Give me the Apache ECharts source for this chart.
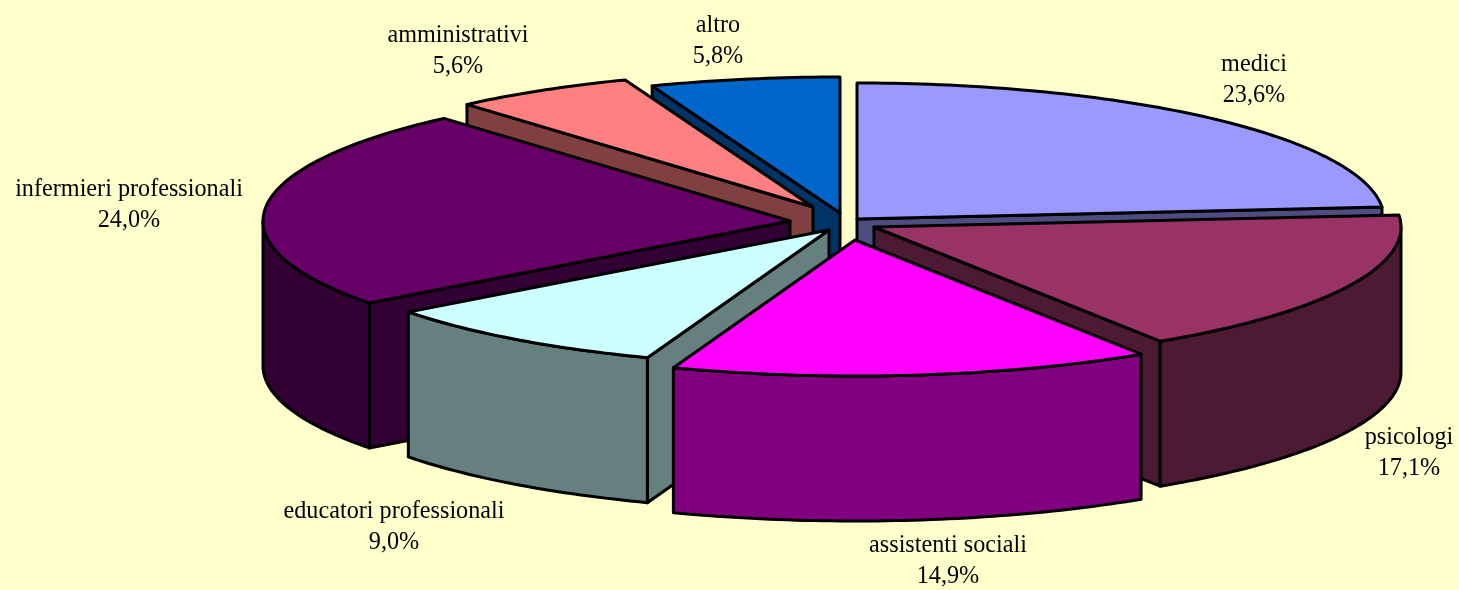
<!DOCTYPE html>
<html>
<head>
<meta charset="utf-8">
<style>html,body{margin:0;padding:0;background:#FFFFCC}#c{width:1459px;height:590px}</style>
<script src="https://cdn.jsdelivr.net/npm/echarts@6/dist/echarts.min.js"></script>
</head>
<body>
<div id="c"></div>
<script>
// Data, clockwise from 12 o'clock
const categories = ['medici','psicologi','assistenti sociali','educatori professionali','infermieri professionali','amministrativi','altro'];
const shares = [23.6,17.1,14.9,9.0,24.0,5.6,5.8];

// Styles
const topColors = ['#9999FF','#993366','#FF00FF','#CCFFFF','#660066','#FF8080','#0066CC'];
const sideColors = ['#4D4D80','#4D1A33','#800080','#668080','#330033','#804040','#003366'];

// Layout of the exploded 3D pie
const apexX = [857,874,855,829,790,813,840];
const apexY = [219,227,240,230,221,207,213];
const edgeNudgeDeg = [0,0,0.6,0,0.4,0,0];
const labelX = [1254,1409,948,394,129,458,718];
const labelY = [80,453,561,527,205,51,41];
const paintOrder = [0,6,5,4,1,3,2];
const RX = 527, RY = 136, DEPTH = 145;

const total = shares.reduce((a,b)=>a+b,0);
const edgeDeg = [];
shares.reduce((acc,v,i)=>{edgeDeg[i]=acc+edgeNudgeDeg[i];return acc+v/total*360;},0);
edgeDeg.push(360);

function rim(i,deg,drop){
  const t=deg*Math.PI/180;
  return [apexX[i]+RX*Math.sin(t), apexY[i]-RY*Math.cos(t)+(drop||0)];
}
function arc(i,a,b,drop){
  const pts=[], n=Math.max(2,Math.ceil(Math.abs(b-a)));
  for(let k=0;k<=n;k++) pts.push(rim(i,a+(b-a)*k/n,drop));
  return pts;
}
function face(points,fill){
  return {type:'polygon',shape:{points:points},
    style:{fill:fill,stroke:'#000',lineWidth:3,lineJoin:'round'}};
}

function renderItem(params,api){
  const i=api.value(0);
  const a=edgeDeg[i], b=edgeDeg[i+1];
  const A=[apexX[i],apexY[i]], Ad=[A[0],A[1]+DEPTH];
  const side=sideColors[i];
  const children=[];
  // cut faces that look toward the viewer
  if(b>0 && b<180){
    const E=rim(i,b),Ed=rim(i,b,DEPTH);
    children.push(face([A,E,Ed,Ad],side));
  }
  if(a>180 && a<360){
    const S=rim(i,a),Sd=rim(i,a,DEPTH);
    children.push(face([A,S,Sd,Ad],side));
  }
  // outer curved wall (front half of the rim)
  const w0=Math.max(a,90), w1=Math.min(b,270);
  if(w1>w0){
    children.push(face(arc(i,w0,w1,0).concat(arc(i,w1,w0,DEPTH)),side));
  }
  // top surface
  children.push(face([A].concat(arc(i,a,b,0)),topColors[i]));
  return {type:'group',children:children};
}

function renderLabel(params,api){
  const i=api.value(0);
  return {type:'text',x:labelX[i],y:labelY[i],
    style:{text:categories[i]+'\n'+api.value(1).toFixed(1).replace('.',',')+'%',
      x:0,y:0,align:'center',verticalAlign:'middle',
      font:'24.2px "Liberation Serif"',lineHeight:31,fill:'#000'}};
}

const chart=echarts.init(document.getElementById('c'),null,{renderer:'canvas'});
chart.setOption({
  animation:false,
  backgroundColor:'#FFFFCC',
  series:[
    {type:'custom',coordinateSystem:'none',renderItem:renderItem,silent:true,
     data:paintOrder.map(i=>[i,shares[i]])},
    {type:'custom',coordinateSystem:'none',renderItem:renderLabel,silent:true,z:5,
     data:categories.map((c,i)=>[i,shares[i]])}
  ]
});
</script>
</body>
</html>
